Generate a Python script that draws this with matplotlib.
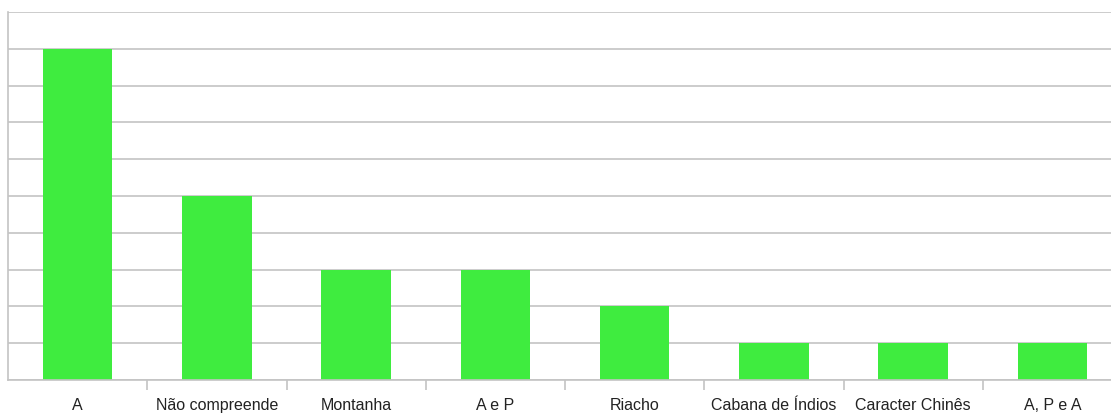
import matplotlib
matplotlib.use("Agg")
import matplotlib.pyplot as plt
import numpy as np

categories = ["A", "Não compreende", "Montanha", "A e P", "Riacho",
              "Cabana de Índios", "Caracter Chinês", "A, P e A"]
counts = [9, 5, 3, 3, 2, 1, 1, 1]
y_max = 10

plt.rcParams["font.family"] = ["Liberation Sans", "DejaVu Sans"]

W, H = 1111, 414
fig = plt.figure(figsize=(W / 100, H / 100), dpi=100)
left, right, top, bottom = 8, 1122, 13, 381
ax = fig.add_axes([left / W, (H - bottom) / H, (right - left) / W, (bottom - top) / H])

x = np.arange(len(categories))
grid_color = "#c4c4c4"
ax.set_ylim(0, y_max)
ax.set_xlim(-0.5, len(categories) - 0.5)
ax.set_yticks(np.arange(0, y_max + 1, 1))
ax.yaxis.grid(True, color=grid_color, linewidth=1.2)
ax.set_axisbelow(True)
ax.bar(x, counts, width=0.5, color="#3fec3f", zorder=2)

ax.set_yticklabels([])
ax.tick_params(axis="y", length=0)
ax.set_xticks(x)
ax.set_xticklabels(categories, fontsize=11.5, color="#222222")
ax.tick_params(axis="x", which="major", length=0, pad=12)
ax.set_xticks(np.arange(0.5, len(categories) - 0.5, 1), minor=True)
ax.tick_params(axis="x", which="minor", length=7, width=1.2, color=grid_color)

for side in ["top", "right"]:
    ax.spines[side].set_visible(False)
for side in ["left", "bottom"]:
    ax.spines[side].set_color(grid_color)
    ax.spines[side].set_linewidth(1.2)

fig.savefig("out.png", dpi=100)
